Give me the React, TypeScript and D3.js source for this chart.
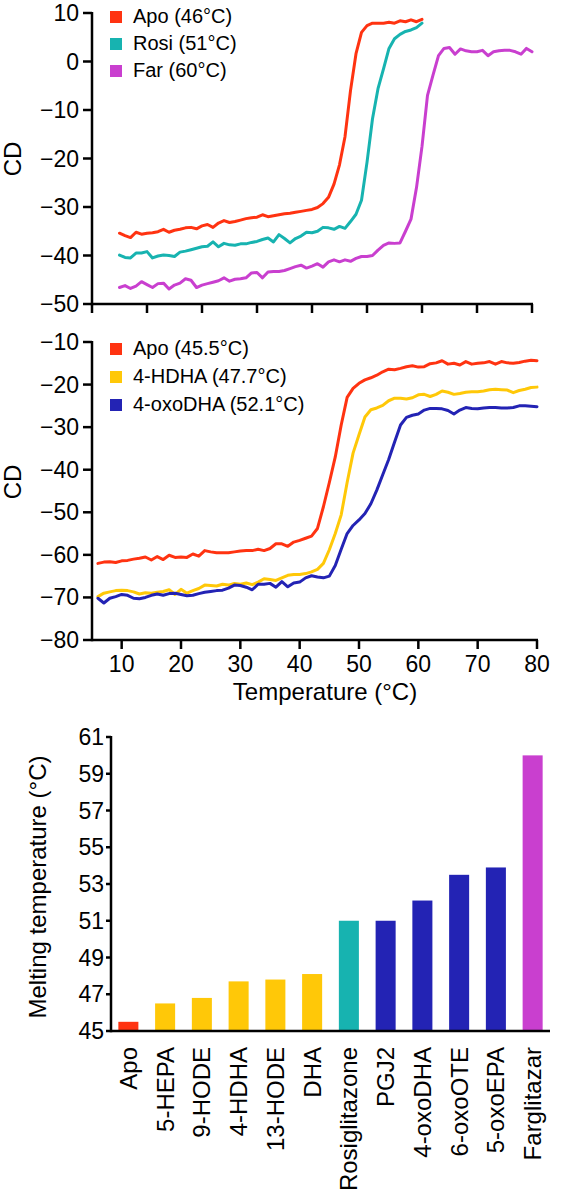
import React from "react";
import * as d3 from "d3";

const FONT = "'Liberation Sans', Arial, Helvetica, sans-serif";

// ---------- Top panel data (CD vs temperature) ----------
const topTempsShort = d3.range(5, 61);
const topTempsLong = d3.range(5, 81);
const topApo = [
  -35.4, -35.9, -36.3, -35.2, -35.6, -35.4, -35.3, -35.1, -34.6, -35.2,
  -34.8, -34.6, -34.3, -34.2, -34.5, -33.9, -33.6, -34.2, -33.3, -32.8,
  -33.2, -33.0, -32.7, -32.4, -32.2, -32.1, -31.6, -32.0, -31.8, -31.6,
  -31.4, -31.3, -31.1, -30.9, -30.7, -30.5, -30.1, -29.3, -28.0, -25.3,
  -21.3, -15.5, -6.0, 1.6, 6.0, 7.4, 7.9, 7.9, 7.9, 8.1,
  7.9, 8.4, 8.2, 8.6, 8.2, 8.7,
];
const topRosi = [
  -39.9, -40.4, -40.5, -39.5, -39.5, -39.2, -40.5, -40.1, -39.9, -40.0,
  -40.2, -39.3, -39.1, -38.8, -38.5, -38.2, -38.1, -37.2, -38.2, -37.5,
  -37.8, -37.9, -37.6, -37.6, -37.3, -37.1, -36.7, -36.4, -37.2, -35.7,
  -36.5, -37.4, -36.5, -36.0, -35.2, -35.3, -35.0, -34.2, -34.3, -34.6,
  -34.0, -34.4, -33.0, -31.5, -28.6, -20.8, -11.8, -5.6, -1.5, 2.7,
  4.7, 5.6, 6.2, 6.5, 7.0, 7.9,
];
const topFar = [
  -46.6, -46.2, -46.8, -46.3, -45.4, -46.0, -46.6, -45.8, -45.7, -46.9,
  -46.1, -45.7, -44.8, -45.1, -46.6, -46.1, -45.8, -45.5, -45.2, -44.6,
  -45.3, -44.9, -44.8, -44.6, -43.6, -43.5, -44.6, -43.4, -43.3, -43.3,
  -43.1, -42.7, -42.3, -42.0, -42.6, -42.2, -41.7, -42.4, -41.3, -40.9,
  -41.3, -40.9, -41.2, -40.6, -40.2, -40.2, -40.0, -38.9, -37.9, -37.4,
  -37.5, -37.4, -35.0, -32.5, -26.0, -17.5, -7.0, -2.8, 1.2, 2.7,
  2.9, 1.5, 2.6, 2.2, 2.0, 2.0, 2.3, 1.2, 2.0, 2.2,
  2.3, 2.3, 2.0, 1.5, 2.7, 2.0,
];
const topLegend = ["Apo (46°C)", "Rosi (51°C)", "Far (60°C)"];
const topYTicks = [10, 0, -10, -20, -30, -40, -50];
const topXTicks = [0, 10, 20, 30, 40, 50, 60, 70, 80];

// ---------- Middle panel data ----------
const midTemps = d3.range(6, 81);
const midApo = [
  -62.0, -61.7, -61.6, -61.8, -61.4, -61.3, -61.0, -60.8, -60.5, -61.2,
  -60.4, -61.1, -60.1, -60.6, -60.5, -60.6, -59.8, -60.3, -59.0, -59.3,
  -59.5, -59.5, -59.5, -59.3, -59.1, -59.0, -59.0, -58.7, -59.0, -58.5,
  -57.4, -57.4, -58.0, -57.0, -56.6, -56.1, -55.6, -53.8, -48.7, -43.0,
  -37.0, -29.5, -23.0, -20.9, -19.7, -18.9, -18.4, -17.8, -17.0, -16.4,
  -16.5, -16.2, -15.8, -15.6, -15.9, -15.8, -15.1, -14.9, -14.4, -15.2,
  -15.0, -15.4, -14.6, -15.2, -15.0, -14.9, -14.6, -15.2, -14.6, -14.9,
  -15.0, -14.8, -14.5, -14.3, -14.4,
];
const midHDHA = [
  -69.8, -69.0, -68.7, -68.4, -68.3, -68.4, -68.7, -69.2, -68.9, -69.0,
  -68.8, -68.6, -68.2, -69.3, -68.1, -69.0, -68.4, -67.9, -67.1, -67.2,
  -67.3, -66.9, -67.1, -66.7, -66.9, -66.6, -67.0, -66.4, -65.6, -65.8,
  -66.0, -65.4, -64.8, -64.6, -64.6, -64.4, -64.0, -63.4, -62.0, -58.8,
  -55.0, -50.6, -43.0, -36.1, -31.8, -27.6, -25.9, -25.5, -24.9, -23.8,
  -23.2, -23.2, -23.4, -23.1, -22.4, -22.3, -22.8, -22.3, -21.5, -21.8,
  -22.3, -22.1, -21.8, -21.7, -21.7, -21.5, -21.2, -21.1, -21.2, -21.3,
  -21.9, -21.4, -21.1, -20.7, -20.6,
];
const midOxo = [
  -70.2, -71.3, -70.2, -69.8, -69.3, -69.5, -70.2, -70.3, -70.0, -69.5,
  -69.2, -69.5, -69.1, -69.0, -69.3, -69.6, -69.5, -69.1, -68.8, -68.6,
  -68.4, -68.3, -67.8, -67.1, -67.2, -67.6, -68.2, -66.9, -66.9, -66.7,
  -67.6, -66.3, -67.5, -66.6, -66.4, -65.4, -64.9, -65.2, -65.4, -65.0,
  -62.5, -58.7, -55.0, -53.1, -51.8, -50.3, -48.0, -44.8, -41.2, -37.6,
  -33.5, -29.5, -27.7, -27.2, -26.9, -26.0, -25.6, -25.6, -25.7, -26.1,
  -26.9, -26.0, -25.4, -25.6, -25.7, -25.5, -25.4, -25.4, -25.5, -25.5,
  -25.4, -25.0, -25.0, -25.1, -25.2,
];
const midLegend = ["Apo (45.5°C)", "4-HDHA (47.7°C)", "4-oxoDHA (52.1°C)"];
const midYTicks = [-10, -20, -30, -40, -50, -60, -70, -80];
const midXTicks = [10, 20, 30, 40, 50, 60, 70, 80];

// ---------- Bar chart data ----------
const barCategories = [
  "Apo", "5-HEPA", "9-HODE", "4-HDHA", "13-HODE", "DHA",
  "Rosiglitazone", "PGJ2", "4-oxoDHA", "6-oxoOTE", "5-oxoEPA", "Farglitazar",
];
const barValues = [45.5, 46.5, 46.8, 47.7, 47.8, 48.1, 51.0, 51.0, 52.1, 53.5, 53.9, 60.0];
const barGroups = ["apo", "hdha", "hdha", "hdha", "hdha", "hdha", "rosi", "oxo", "oxo", "oxo", "oxo", "far"];
const barYTicks = [45, 47, 49, 51, 53, 55, 57, 59, 61];

const COLORS: Record<string, string> = {
  apo: "#ff3311",
  rosi: "#17b3b0",
  far: "#c93fcf",
  hdha: "#ffc808",
  oxo: "#2323b4",
};

const AX = 2.5;

function LinePath({ temps, values, x, y, color }: any) {
  const gen = d3
    .line<number>()
    .x((_, i) => x(temps[i]))
    .y((d) => y(d));
  return (
    <path
      d={gen(values) || ""}
      fill="none"
      stroke={color}
      strokeWidth={3}
      strokeLinejoin="round"
      strokeLinecap="round"
    />
  );
}

export default function App() {
  const xTop = d3.scaleLinear().domain([0, 80]).range([92, 532]);
  const yTop = d3.scaleLinear().domain([-50, 10]).range([304, 13]);
  const xMid = d3.scaleLinear().domain([5, 80]).range([92, 537]);
  const yMid = d3.scaleLinear().domain([-80, -10]).range([640, 342]);
  const barX0 = 111;
  const barX1 = 550;
  const xBar = d3
    .scaleBand<string>()
    .domain(barCategories)
    .range([barX0, barX1])
    .paddingInner(0.455)
    .paddingOuter(0.2);
  const yBar = d3.scaleLinear().domain([45, 61]).range([1031, 737]);
  const fmt = d3.format("d");

  const topSeries = [
    { values: topApo, temps: topTempsShort, color: COLORS.apo },
    { values: topRosi, temps: topTempsShort, color: COLORS.rosi },
    { values: topFar, temps: topTempsLong, color: COLORS.far },
  ];
  const topLegendColors = [COLORS.apo, COLORS.rosi, COLORS.far];
  const midSeries = [
    { values: midApo, color: COLORS.apo },
    { values: midHDHA, color: COLORS.hdha },
    { values: midOxo, color: COLORS.oxo },
  ];
  const midLegendColors = [COLORS.apo, COLORS.hdha, COLORS.oxo];

  return (
    <svg
      width={561}
      height={1201}
      style={{ position: "absolute", left: 0, top: 0, background: "#fff" }}
      fontFamily={FONT}
    >
      <rect x={0} y={0} width={561} height={1201} fill="#fff" />

      {/* ---------------- Top panel ---------------- */}
      <g>
        {topSeries.map((s, i) => (
          <LinePath key={i} temps={s.temps} values={s.values} x={xTop} y={yTop} color={s.color} />
        ))}
        <line x1={xTop(0)} x2={xTop(0)} y1={yTop(10) - 1} y2={yTop(-50) + AX / 2} stroke="#000" strokeWidth={AX} />
        <line x1={xTop(0)} x2={xTop(80) + 1} y1={yTop(-50)} y2={yTop(-50)} stroke="#000" strokeWidth={AX} />
        {topYTicks.map((t) => (
          <g key={t}>
            <line x1={83} x2={92} y1={yTop(t)} y2={yTop(t)} stroke="#000" strokeWidth={AX} />
            <text x={79} y={yTop(t)} dy="0.35em" textAnchor="end" fontSize={23}>
              {fmt(t)}
            </text>
          </g>
        ))}
        {topXTicks.map((t) => (
          <line key={t} x1={xTop(t)} x2={xTop(t)} y1={304} y2={313} stroke="#000" strokeWidth={AX} />
        ))}
        {topLegend.map((l, i) => (
          <g key={l}>
            <rect x={110} y={11 + i * 27} width={12} height={12} fill={topLegendColors[i]} />
            <text x={133} y={23 + i * 27} fontSize={20}>
              {l}
            </text>
          </g>
        ))}
        <text transform={`translate(21,159) rotate(-90)`} textAnchor="middle" fontSize={24}>
          CD
        </text>
      </g>

      {/* ---------------- Middle panel ---------------- */}
      <g>
        {midSeries.map((s, i) => (
          <LinePath key={i} temps={midTemps} values={s.values} x={xMid} y={yMid} color={s.color} />
        ))}
        <line x1={92} x2={92} y1={yMid(-10) - 1} y2={yMid(-80) + AX / 2} stroke="#000" strokeWidth={AX} />
        <line x1={92} x2={xMid(80) + 1} y1={yMid(-80)} y2={yMid(-80)} stroke="#000" strokeWidth={AX} />
        {midYTicks.map((t) => (
          <g key={t}>
            <line x1={83} x2={92} y1={yMid(t)} y2={yMid(t)} stroke="#000" strokeWidth={AX} />
            <text x={79} y={yMid(t)} dy="0.35em" textAnchor="end" fontSize={23}>
              {fmt(t)}
            </text>
          </g>
        ))}
        {midXTicks.map((t) => (
          <g key={t}>
            <line x1={xMid(t)} x2={xMid(t)} y1={640} y2={649} stroke="#000" strokeWidth={AX} />
            <text x={xMid(t)} y={672} textAnchor="middle" fontSize={23}>
              {fmt(t)}
            </text>
          </g>
        ))}
        {midLegend.map((l, i) => (
          <g key={l}>
            <rect x={110} y={343 + i * 28} width={12} height={12} fill={midLegendColors[i]} />
            <text x={133} y={355 + i * 28} fontSize={20}>
              {l}
            </text>
          </g>
        ))}
        <text transform={`translate(21,482) rotate(-90)`} textAnchor="middle" fontSize={24}>
          CD
        </text>
        <text x={325} y={700} textAnchor="middle" fontSize={24}>
          Temperature (°C)
        </text>
      </g>

      {/* ---------------- Bar chart ---------------- */}
      <g>
        {barCategories.map((c, i) => (
          <rect
            key={c}
            x={xBar(c)}
            y={yBar(barValues[i])}
            width={xBar.bandwidth()}
            height={yBar(45) - yBar(barValues[i])}
            fill={COLORS[barGroups[i]]}
          />
        ))}
        <line x1={barX0} x2={barX0} y1={yBar(61) - 1} y2={yBar(45) + AX / 2} stroke="#000" strokeWidth={AX} />
        <line x1={barX0} x2={barX1} y1={yBar(45)} y2={yBar(45)} stroke="#000" strokeWidth={AX} />
        {barYTicks.map((t) => (
          <g key={t}>
            <line x1={barX0 - 5} x2={barX0} y1={yBar(t)} y2={yBar(t)} stroke="#000" strokeWidth={AX} />
            <text x={barX0 - 7} y={yBar(t)} dy="0.35em" textAnchor="end" fontSize={23}>
              {fmt(t)}
            </text>
          </g>
        ))}
        {barCategories.map((c) => (
          <text
            key={c}
            transform={`translate(${(xBar(c) as number) + xBar.bandwidth() / 2},1047) rotate(-90)`}
            dy="0.35em"
            textAnchor="end"
            fontSize={24}
          >
            {c}
          </text>
        ))}
        <text transform={`translate(46,887) rotate(-90)`} textAnchor="middle" fontSize={24}>
          Melting temperature (°C)
        </text>
      </g>
    </svg>
  );
}
